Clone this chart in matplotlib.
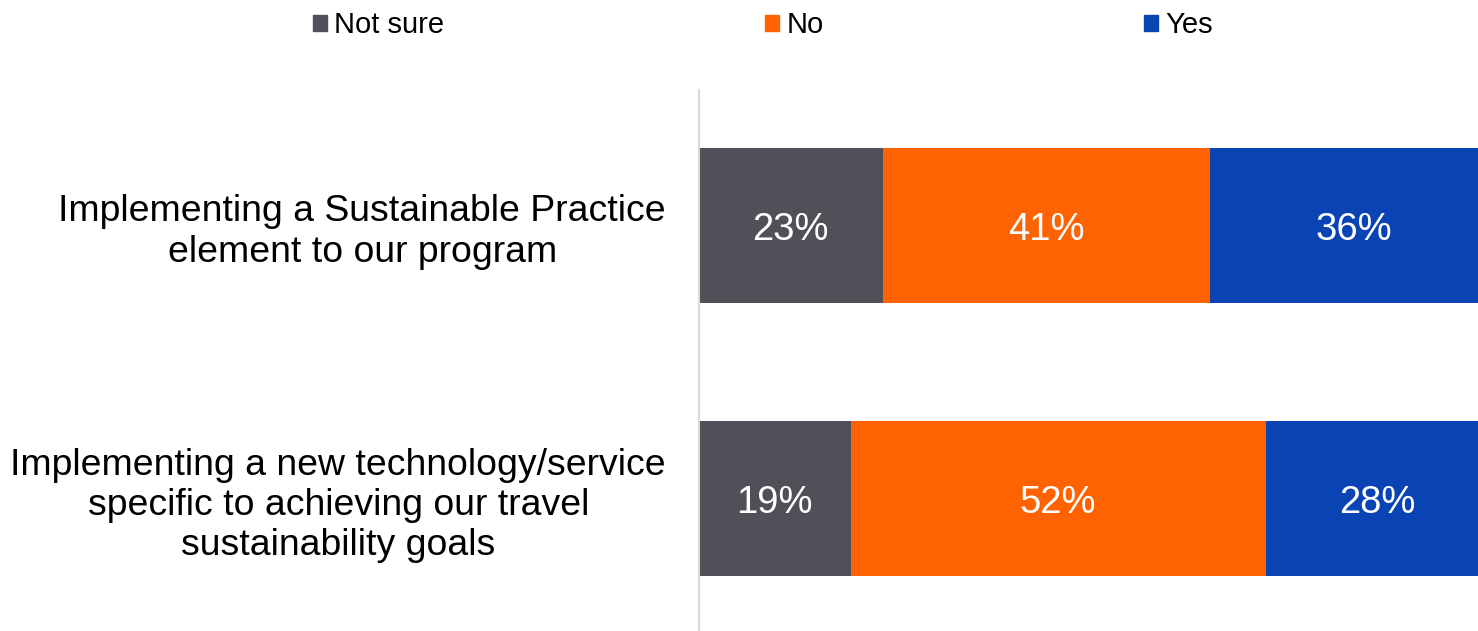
import matplotlib.pyplot as plt
from matplotlib.patches import Patch

plt.rcParams['font.family'] = ['Liberation Sans', 'DejaVu Sans']

# survey answers, share of respondents in %
categories = ['Implementing a Sustainable Practice\nelement to our program',
              'Implementing a new technology/service\nspecific to achieving our travel\nsustainability goals']
series = ['Not sure', 'No', 'Yes']
not_sure = [23, 19]
no = [41, 52]
yes = [36, 28]
colors = ['#505059', '#FF6200', '#0A43B4']

W, H = 1478, 631
fig = plt.figure(figsize=(W / 100, H / 100), dpi=100)
ax = fig.add_axes([699 / W, 0, 1 - 699 / W, 1 - 90 / H])

ypos = range(len(categories))
left = [0] * len(categories)
for name, vals, col in zip(series, [not_sure, no, yes], colors):
    bars = ax.barh(ypos, vals, left=left, height=0.567, color=col, label=name)
    for b, v in zip(bars, vals):
        ax.annotate(f'{v}%', (b.get_x() + b.get_width() / 2, b.get_y() + b.get_height() / 2),
                    xytext=(0, -3), textcoords='offset points',
                    ha='center', va='center', color='white', fontsize=27.5)
    left = [l + v for l, v in zip(left, vals)]

ax.set_xlim(0, 97.6)
ax.set_ylim(1.483, -0.495)
ax.set_xticks([])
ax.set_yticks(list(ypos))
ax.set_yticklabels(categories, fontsize=26.9, linespacing=1.2,
                   ha='right', multialignment='center')
ax.tick_params(axis='y', length=0, pad=33 * 0.72)
for s in ['top', 'right', 'bottom']:
    ax.spines[s].set_visible(False)
ax.spines['left'].set_color('#D9D9D9')
ax.spines['left'].set_linewidth(1.5)

handles = [Patch(color=c, label=s) for s, c in zip(series, colors)]
fig.legend(handles=handles, loc='center', bbox_to_anchor=(763 / W, 1 - 25 / H),
           ncol=3, frameon=False, fontsize=21, handlelength=0.48, handleheight=0.48,
           handletextpad=0.25, columnspacing=11, borderpad=0)

fig.savefig('out.png', dpi=100)
